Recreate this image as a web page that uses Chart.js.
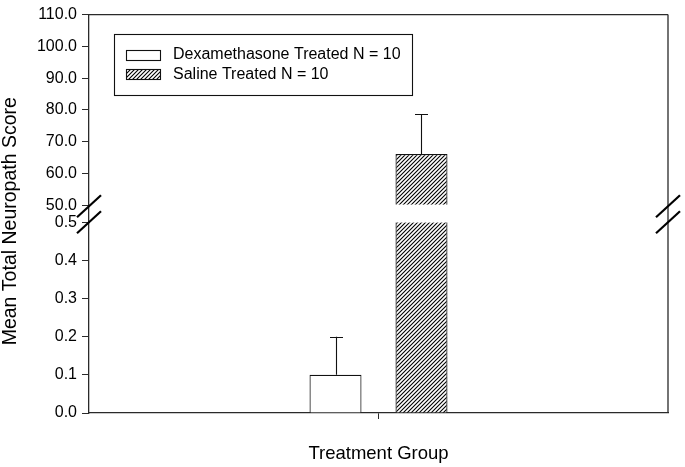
<!DOCTYPE html>
<html><head><meta charset="utf-8">
<script src="https://cdn.jsdelivr.net/npm/chart.js@4.4.1/dist/chart.umd.min.js"></script>
<style>html,body{margin:0;padding:0;background:#fff;} canvas{display:block;}</style>
</head><body>
<canvas id="c" width="685" height="467"></canvas>
<script>
// ---- data ----
const categories = ['Treatment Group'];
const seriesLabels = ['Dexamethasone Treated N = 10', 'Saline Treated N = 10'];
const dexMean = [0.1];
const dexError = [0.1];
const salineMean = [66.1];
const salineError = [12.6];
const lowerTicks = [0.0, 0.1, 0.2, 0.3, 0.4, 0.5];
const upperTicks = [50, 60, 70, 80, 90, 100, 110];
const xTitle = 'Treatment Group';
const yTitle = 'Mean Total Neuropath Score';

const lowerMax = lowerTicks[lowerTicks.length - 1];
const upperMin = upperTicks[0];
const lowerPart = arr => arr.map(v => Math.min(v, lowerMax));
const upperPart = arr => arr.map(v => (v >= upperMin ? v : null));

const FONT = '"Liberation Sans", Arial, Helvetica, sans-serif';
Chart.defaults.font.family = FONT;
Chart.defaults.color = '#000';
const ink = '#111';
const axisColor = '#2a2a2a';

function makeHatch() {
  const p = document.createElement('canvas');
  p.width = 4; p.height = 4;
  const g = p.getContext('2d');
  g.fillStyle = '#fff'; g.fillRect(0, 0, 4, 4);
  g.strokeStyle = '#000'; g.lineWidth = 1.1;
  g.beginPath();
  g.moveTo(0, 4); g.lineTo(4, 0);
  g.moveTo(-1, 1); g.lineTo(1, -1);
  g.moveTo(3, 5); g.lineTo(5, 3);
  g.stroke();
  return g.createPattern(p, 'repeat');
}
const hatch = makeHatch();

const datasets = [
  { label: seriesLabels[0], data: lowerPart(dexMean), yAxisID: 'yLower', stack: 'dex',
    backgroundColor: '#fff', borderColor: ink, borderWidth: 1.2, borderSkipped: 'start' },
  { label: seriesLabels[1], data: lowerPart(salineMean), yAxisID: 'yLower', stack: 'sal',
    backgroundColor: hatch, borderColor: ink, borderWidth: {left: 1.2, right: 1.2, top: 0, bottom: 0}, borderSkipped: false },
  { label: seriesLabels[0], data: upperPart(dexMean), yAxisID: 'yUpper', stack: 'dex', base: upperMin,
    backgroundColor: '#fff', borderColor: ink, borderWidth: 1.2, borderSkipped: 'start' },
  { label: seriesLabels[1], data: upperPart(salineMean), yAxisID: 'yUpper', stack: 'sal', base: upperMin,
    backgroundColor: hatch, borderColor: ink, borderWidth: 1.2, borderSkipped: 'start' }
];

const tickAxis = (ticksArr, weight, stackWeight) => ({
  type: 'linear', position: 'left', stack: 'S', stackWeight: stackWeight, weight: weight,
  min: ticksArr[0], max: ticksArr[ticksArr.length - 1],
  afterBuildTicks: s => { s.ticks = ticksArr.map(v => ({value: v})); },
  afterFit: s => { s.width = 69; },
  ticks: { font: {size: 16}, color: '#000', padding: 5, autoSkip: false, callback: v => Number(v).toFixed(1) },
  grid: { drawOnChartArea: false, drawTicks: true, tickLength: 7, color: axisColor, lineWidth: 1 },
  border: { display: true, color: axisColor, width: 1.3 }
});

const errorBars = {
  id: 'errorBars',
  afterDatasetsDraw(chart) {
    const ctx = chart.ctx;
    const groups = [[0, 2, dexMean, dexError], [1, 3, salineMean, salineError]];
    ctx.save();
    ctx.strokeStyle = ink; ctx.lineWidth = 1.1;
    groups.forEach(([li, ui, mean, err]) => {
      mean.forEach((m, i) => {
        const up = m >= upperMin;
        const bar = chart.getDatasetMeta(up ? ui : li).data[i];
        const scale = chart.scales[up ? 'yUpper' : 'yLower'];
        const yTop = scale.getPixelForValue(m + err[i]);
        const x = Math.round(bar.x) + 0.5;
        ctx.beginPath();
        ctx.moveTo(x, bar.y); ctx.lineTo(x, yTop);
        ctx.moveTo(x - 6.5, Math.round(yTop) + 0.5); ctx.lineTo(x + 6.5, Math.round(yTop) + 0.5);
        ctx.stroke();
      });
    });
    ctx.restore();
  }
};

const frame = {
  id: 'frame',
  afterDraw(chart) {
    const ctx = chart.ctx, ca = chart.chartArea;
    ctx.save();
    ctx.strokeStyle = axisColor; ctx.lineWidth = 1.3;
    ctx.beginPath();
    ctx.moveTo(ca.left, ca.top); ctx.lineTo(ca.right, ca.top);
    ctx.moveTo(ca.right, ca.top); ctx.lineTo(ca.right, ca.bottom);
    ctx.stroke();
    // axis break marks
    const yb1 = chart.scales.yUpper.bottom + 1;
    const yb2 = chart.scales.yLower.top;
    ctx.strokeStyle = '#000'; ctx.lineWidth = 2.2;
    [ca.left, ca.right].forEach(x => {
      [yb1, yb2].forEach(y => {
        ctx.beginPath();
        ctx.moveTo(x - 12, y + 11); ctx.lineTo(x + 12, y - 11);
        ctx.stroke();
      });
    });
    // legend
    const bx = ca.left + 25, by = ca.top + 19, bw = 298, bh = 61;
    ctx.lineWidth = 1.1; ctx.strokeStyle = ink;
    ctx.strokeRect(Math.round(bx) + 0.5, Math.round(by) + 0.5, bw, bh);
    const rows = [by + 21, by + 40.5];
    const fills = ['#fff', hatch];
    ctx.font = '16px ' + FONT;
    ctx.textBaseline = 'middle'; ctx.textAlign = 'left'; ctx.fillStyle = '#000';
    seriesLabels.forEach((lab, k) => {
      const sy = Math.round(rows[k] - 5) + 0.5;
      ctx.fillStyle = fills[k];
      ctx.fillRect(bx + 12, sy, 34, 10);
      ctx.strokeRect(Math.round(bx + 12) + 0.5, sy, 34, 10);
      ctx.fillStyle = '#000';
      ctx.fillText(lab, bx + 59, rows[k]);
    });
    ctx.restore();
  }
};

new Chart(document.getElementById('c'), {
  type: 'bar',
  data: { labels: categories, datasets: datasets },
  options: {
    responsive: false, animation: false, devicePixelRatio: 1,
    layout: { padding: { top: 10, right: 17, bottom: 0, left: 0 } },
    categoryPercentage: 0.297, barPercentage: 0.605,
    datasets: { bar: { inflateAmount: 0 } },
    plugins: { legend: { display: false }, tooltip: { enabled: false } },
    scales: {
      x: {
        type: 'category', position: 'bottom', offset: true,
        afterFit: s => { s.height = 54; },
        ticks: { display: false },
        grid: { offset: false, drawOnChartArea: false, drawTicks: true, tickLength: 6, color: axisColor, lineWidth: 1 },
        border: { display: true, color: axisColor, width: 1.3 },
        title: { display: true, text: xTitle, font: {size: 18.5, lineHeight: 1.2}, color: '#000', padding: {top: 0, bottom: 2} }
      },
      tDummy: {
        type: 'linear', position: 'left', stack: 'T', stackWeight: 15, weight: 10, display: false,
        afterFit: s => { s.width = 20; }
      },
      tAxis: {
        type: 'linear', position: 'left', stack: 'T', stackWeight: 388, weight: 9,
        afterFit: s => { s.width = 20; },
        ticks: { display: false }, grid: { display: false }, border: { display: false },
        title: { display: true, text: yTitle, font: {size: 19.5, lineHeight: 1.1}, color: '#000', padding: {top: 0, bottom: 0} }
      },
      yUpper: tickAxis(upperTicks, 5, 192.8),
      ySpacer: {
        type: 'linear', position: 'left', stack: 'S', stackWeight: 17.2, weight: 4,
        afterFit: s => { s.width = 69; },
        ticks: { display: false }, grid: { display: false },
        border: { display: true, color: axisColor, width: 1.3 }
      },
      yLower: tickAxis(lowerTicks, 3, 193)
    }
  },
  plugins: [errorBars, frame]
});
</script>
</body></html>
